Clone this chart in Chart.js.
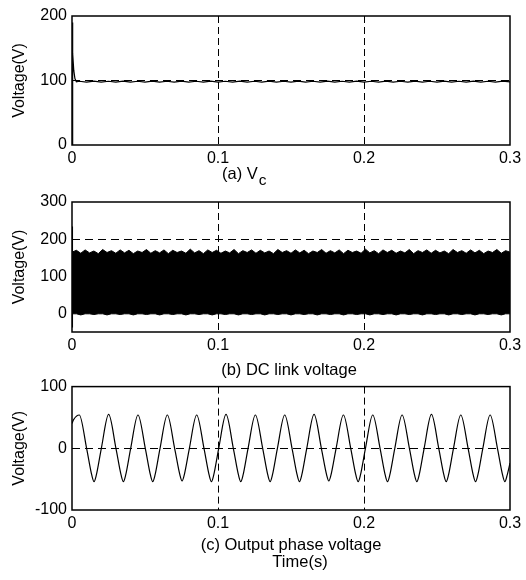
<!DOCTYPE html>
<html>
<head>
<meta charset="utf-8">
<script src="https://cdn.jsdelivr.net/npm/chart.js@4"></script>
<style>
  body { margin: 0; background: #fff; }
  #wrap { position: relative; width: 526px; height: 580px; }
  canvas { position: absolute; left: 0; }
</style>
</head>
<body>
<div id="wrap">
  <canvas id="chartA" width="526" height="190" style="top:0px"></canvas>
  <canvas id="chartB" width="526" height="194" style="top:186px"></canvas>
  <canvas id="chartC" width="526" height="208" style="top:372px"></canvas>
</div>
<script>
// shared time axis
const timeTicks = [0, 0.1, 0.2, 0.3];

// (a) Vc
const vcTicks = [0, 100, 200];
const vcRef = [100];
const vcTime = [0, 0.0003, 0.0006, 0.0012, 0.002, 0.003,
  0.005, 0.01, 0.015, 0.02, 0.025, 0.03, 0.035, 0.04, 0.045, 0.05,
  0.055, 0.06, 0.065, 0.07, 0.075, 0.08, 0.085, 0.09, 0.095, 0.1,
  0.105, 0.11, 0.115, 0.12, 0.125, 0.13, 0.135, 0.14, 0.145, 0.15,
  0.155, 0.16, 0.165, 0.17, 0.175, 0.18, 0.185, 0.19, 0.195, 0.2,
  0.205, 0.21, 0.215, 0.22, 0.225, 0.23, 0.235, 0.24, 0.245, 0.25,
  0.255, 0.26, 0.265, 0.27, 0.275, 0.28, 0.285, 0.29, 0.295, 0.3];
const vcValues = [0, 190, 142, 116, 103, 98,
  98.8, 97.5, 98.9, 97.6, 98.8, 97.4, 98.9, 97.5, 98.8, 97.6,
  98.9, 97.5, 98.8, 97.4, 98.9, 97.6, 98.8, 97.5, 98.9, 97.5,
  98.8, 97.6, 98.9, 97.4, 98.8, 97.5, 98.9, 97.6, 98.8, 97.5,
  98.9, 97.4, 98.8, 97.6, 98.9, 97.5, 98.8, 97.5, 98.9, 97.6,
  98.8, 97.4, 98.9, 97.5, 98.8, 97.6, 98.9, 97.5, 98.8, 97.4,
  98.9, 97.6, 98.8, 97.5, 98.9, 97.5, 98.8, 97.6, 98.9, 97.8];

// (b) DC link voltage: envelope of the switching band
const dcTicks = [0, 100, 200, 300];
const dcRef = [200];
const dcTime = [0, 0.003, 0.006, 0.009, 0.012, 0.015, 0.018, 0.021, 0.024, 0.027,
  0.03, 0.033, 0.036, 0.039, 0.042, 0.045, 0.048, 0.051, 0.054, 0.057,
  0.06, 0.063, 0.066, 0.069, 0.072, 0.075, 0.078, 0.081, 0.084, 0.087,
  0.09, 0.093, 0.096, 0.099, 0.102, 0.105, 0.108, 0.111, 0.114, 0.117,
  0.12, 0.123, 0.126, 0.129, 0.132, 0.135, 0.138, 0.141, 0.144, 0.147,
  0.15, 0.153, 0.156, 0.159, 0.162, 0.165, 0.168, 0.171, 0.174, 0.177,
  0.18, 0.183, 0.186, 0.189, 0.192, 0.195, 0.198, 0.201, 0.204, 0.207,
  0.21, 0.213, 0.216, 0.219, 0.222, 0.225, 0.228, 0.231, 0.234, 0.237,
  0.24, 0.243, 0.246, 0.249, 0.252, 0.255, 0.258, 0.261, 0.264, 0.267,
  0.27, 0.273, 0.276, 0.279, 0.282, 0.285, 0.288, 0.291, 0.294, 0.297,
  0.3];
const dcUpper = [165, 170, 162, 171, 163, 168, 161, 172, 164, 169,
  162, 171, 163, 170, 161, 168, 164, 172, 162, 169,
  163, 171, 161, 170, 164, 168, 162, 173, 163, 169,
  161, 171, 164, 170, 162, 168, 163, 172, 161, 169,
  164, 171, 162, 170, 163, 168, 161, 172, 164, 169,
  162, 171, 163, 170, 161, 168, 164, 172, 162, 169,
  163, 171, 161, 170, 164, 168, 162, 173, 163, 169,
  161, 171, 164, 170, 162, 168, 163, 172, 161, 169,
  164, 171, 162, 170, 163, 168, 161, 172, 164, 169,
  162, 171, 163, 170, 161, 168, 164, 172, 162, 169,
  165];
const dcLower = [-1, -1, -4, -1, -1, -3, -1, -1, -4, -1,
  -1, -3, -1, -1, -4, -1, -1, -3, -1, -1,
  -4, -1, -1, -3, -1, -1, -4, -1, -1, -3,
  -1, -1, -4, -1, -1, -3, -1, -1, -4, -1,
  -1, -3, -1, -1, -4, -1, -1, -3, -1, -1,
  -4, -1, -1, -3, -1, -1, -4, -1, -1, -3,
  -1, -1, -4, -1, -1, -3, -1, -1, -4, -1,
  -1, -3, -1, -1, -4, -1, -1, -3, -1, -1,
  -4, -1, -1, -3, -1, -1, -4, -1, -1, -3,
  -1, -1, -4, -1, -1, -3, -1, -1, -4, -1,
  -1];
const dcSpikeTime = [0.0003, 0.0003];
const dcSpikeValues = [-38, 234];

// (c) output phase voltage: per cycle peak, zero, trough flank, trough, trough flank, zero
const phaseTicks = [-100, 0, 100];
const phaseRef = [0];
const phaseTime = [0, 0.001,
  0.0050, 0.0100, 0.0136, 0.0151, 0.0166, 0.0201,
  0.0251, 0.0301, 0.0337, 0.0352, 0.0367, 0.0402,
  0.0452, 0.0502, 0.0538, 0.0553, 0.0568, 0.0603,
  0.0653, 0.0703, 0.0739, 0.0754, 0.0769, 0.0804,
  0.0854, 0.0904, 0.0940, 0.0955, 0.0970, 0.1005,
  0.1055, 0.1105, 0.1141, 0.1156, 0.1171, 0.1206,
  0.1256, 0.1306, 0.1342, 0.1357, 0.1372, 0.1407,
  0.1457, 0.1507, 0.1543, 0.1558, 0.1573, 0.1608,
  0.1658, 0.1708, 0.1744, 0.1759, 0.1774, 0.1809,
  0.1859, 0.1909, 0.1945, 0.1960, 0.1975, 0.2010,
  0.2060, 0.2110, 0.2146, 0.2161, 0.2176, 0.2211,
  0.2261, 0.2311, 0.2347, 0.2362, 0.2377, 0.2412,
  0.2462, 0.2512, 0.2548, 0.2563, 0.2578, 0.2613,
  0.2663, 0.2713, 0.2749, 0.2764, 0.2779, 0.2814,
  0.2864, 0.2914, 0.2950, 0.2965, 0.2980, 0.3];
const phaseValues = [40, 46,
  54, 0, -44, -54, -44, 0,
  55, 0, -44, -54, -44, 0,
  54, 0, -44, -54, -44, 0,
  54, 0, -43, -53, -43, 0,
  54, 0, -44, -54, -44, 0,
  55, 0, -44, -54, -44, 0,
  54, 0, -44, -54, -44, 0,
  54, 0, -44, -54, -44, 0,
  55, 0, -43, -53, -43, 0,
  54, 0, -44, -54, -44, 0,
  54, 0, -44, -54, -44, 0,
  54, 0, -44, -54, -44, 0,
  55, 0, -44, -54, -44, 0,
  54, 0, -44, -54, -44, 0,
  54, 0, -44, -54, -44, -24];

const fontFamily = "'Liberation Sans', Arial, Helvetica, sans-serif";
Chart.defaults.font.family = fontFamily;
Chart.defaults.color = '#000';

function pts(xs, ys) {
  return xs.map((x, i) => ({ x: x, y: ys[i] }));
}

function isRef(list) {
  return c => (c.tick && list.some(v => Math.abs(v - c.tick.value) < 1e-9)) ? '#000' : 'rgba(0,0,0,0)';
}

// frame + captions under each axes
function framePlugin(lines) {
  return {
    id: 'frame',
    afterDraw(chart) {
      const ctx = chart.ctx;
      const a = chart.chartArea;
      ctx.save();
      ctx.setLineDash([]);
      ctx.strokeStyle = '#000';
      ctx.lineWidth = 1.5;
      ctx.strokeRect(a.left, a.top, a.right - a.left, a.bottom - a.top);
      ctx.fillStyle = '#000';
      ctx.textBaseline = 'alphabetic';
      lines.forEach(l => {
        ctx.font = l.size + 'px ' + fontFamily;
        ctx.textAlign = l.align || 'left';
        ctx.fillText(l.text, l.x, l.y);
        if (l.sub) {
          const w = ctx.measureText(l.text).width;
          ctx.font = (l.size - 1) + 'px ' + fontFamily;
          ctx.textAlign = 'left';
          ctx.fillText(l.sub, l.x + w + 1, l.y + 6);
        }
      });
      ctx.restore();
    }
  };
}

function makeChart(id, datasets, yMin, yMax, yTicks, yRef, padTop, xHeight, captions) {
  return new Chart(document.getElementById(id), {
    type: 'line',
    data: { datasets: datasets },
    options: {
      responsive: false,
      animation: false,
      devicePixelRatio: 1,
      layout: { padding: { top: padTop, right: 16, left: 0, bottom: 0 } },
      plugins: { legend: { display: false }, tooltip: { enabled: false } },
      elements: { point: { radius: 0 }, line: { borderColor: '#000', borderWidth: 1.2 } },
      scales: {
        x: {
          type: 'linear', min: 0, max: 0.3,
          afterBuildTicks: s => { s.ticks = timeTicks.map(v => ({ value: v })); },
          afterFit: s => { s.height = xHeight; },
          ticks: { padding: 4, font: { size: 16 }, maxRotation: 0, autoSkip: false, callback: v => String(v) },
          grid: { drawTicks: false, color: isRef([0.1, 0.2]), lineWidth: 1 },
          border: { display: false, dash: [7, 4] }
        },
        y: {
          min: yMin, max: yMax,
          afterBuildTicks: s => { s.ticks = yTicks.map(v => ({ value: v })); },
          afterFit: s => { s.width = 72; },
          ticks: { padding: 5, font: { size: 16 }, callback: v => String(v) },
          grid: { drawTicks: false, color: isRef(yRef), lineWidth: 1 },
          border: { display: false, dash: [8, 5] },
          title: { display: true, text: 'Voltage(V)', font: { size: 16 }, padding: { top: 10, bottom: 0 } }
        }
      }
    },
    plugins: [framePlugin(captions)]
  });
}

makeChart('chartA', [
  { data: pts(vcTime, vcValues), borderColor: '#000', borderWidth: 1.2, fill: false }
], 0, 200, vcTicks, vcRef, 16, 45, [
  { text: '(a) V', sub: 'c', x: 222, y: 179, size: 16.5 }
]);

makeChart('chartB', [
  { data: pts(dcTime, dcUpper), borderColor: '#000', borderWidth: 1, backgroundColor: '#000', fill: '+1' },
  { data: pts(dcTime, dcLower), borderColor: '#000', borderWidth: 1, fill: false },
  { data: pts(dcSpikeTime, dcSpikeValues), borderColor: '#000', borderWidth: 1.2, fill: false }
], -50, 300, dcTicks, dcRef, 16, 48, [
  { text: '(b) DC link voltage', x: 289, y: 189, size: 16.5, align: 'center' }
]);

makeChart('chartC', [
  { data: pts(phaseTime, phaseValues), borderColor: '#000', borderWidth: 1.2, fill: false, cubicInterpolationMode: 'monotone' }
], -100, 100, phaseTicks, phaseRef, 12, 70, [
  { text: '(c) Output phase voltage', x: 291, y: 178, size: 16.5, align: 'center' },
  { text: 'Time(s)', x: 300, y: 195, size: 16.5, align: 'center' }
]);
</script>
</body>
</html>
